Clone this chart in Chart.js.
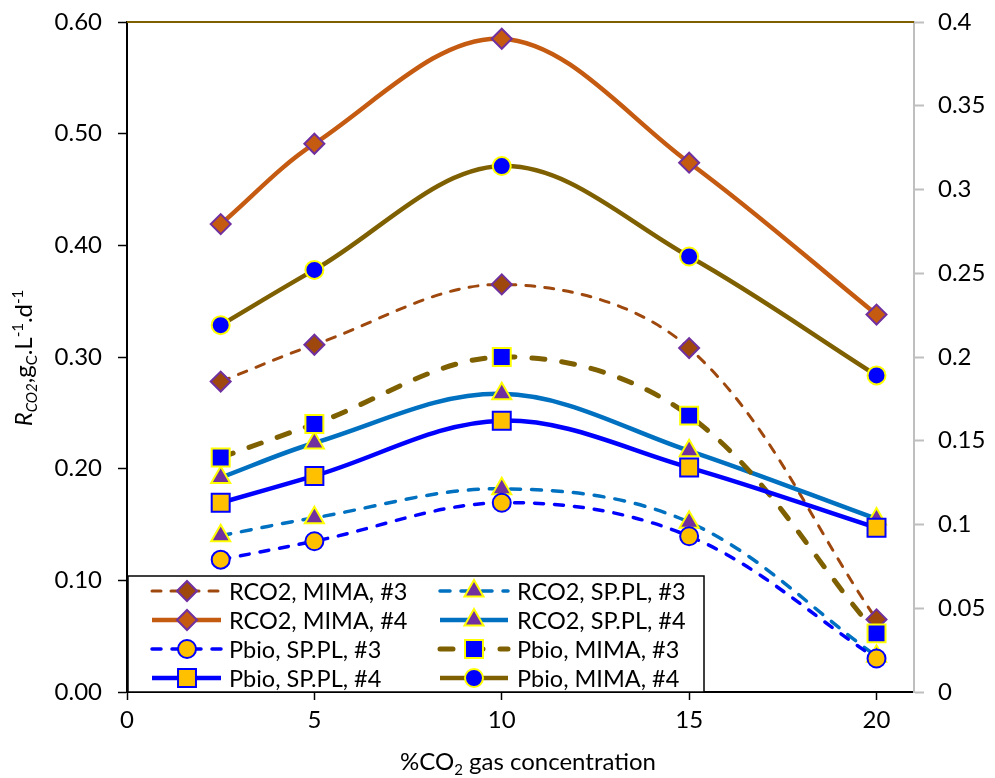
<!DOCTYPE html>
<html>
<head>
<meta charset="utf-8">
<script src="https://cdn.jsdelivr.net/npm/chart.js@4.4.1/dist/chart.umd.min.js"></script>
<style>
  html, body { margin: 0; padding: 0; background: #fff; }
  canvas { display: block; }
</style>
</head>
<body>
<canvas id="chart" width="995" height="778"></canvas>
<script>
// x positions (% CO2 in gas)
const xValues = [2.5, 5, 10, 15, 20];

// CO2 removal rate, left axis
const rco2Mima3 = [0.278, 0.311, 0.365, 0.308, 0.065];
const rco2Sppl3 = [0.140, 0.156, 0.182, 0.152, 0.032];
const rco2Mima4 = [0.419, 0.491, 0.585, 0.474, 0.338];
const rco2Sppl4 = [0.192, 0.223, 0.267, 0.216, 0.155];

// biomass productivity, right axis
const pbioSppl3 = [0.079, 0.090, 0.113, 0.093, 0.020];
const pbioMima3 = [0.140, 0.160, 0.200, 0.165, 0.035];
const pbioSppl4 = [0.113, 0.129, 0.162, 0.134, 0.098];
const pbioMima4 = [0.219, 0.252, 0.314, 0.260, 0.189];

const leftTicks = [0, 0.1, 0.2, 0.3, 0.4, 0.5, 0.6];
const rightTicks = [0, 0.05, 0.1, 0.15, 0.2, 0.25, 0.3, 0.35, 0.4];
const xTicks = [0, 5, 10, 15, 20];

const FONT = "Lato";
const ORANGE = "#C55A11", BROWN = "#9E480E", OLIVE = "#7F6000";
const LBLUE = "#0070C0", BLUE = "#0000FF", PURPLE = "#7030A0";
const YELLOW = "#FFFF00", GOLD = "#FFC000";

const pts = arr => xValues.map((x, i) => ({ x: x, y: arr[i] }));

// order of series = legend order (row by row)
const series = [
  { label: "RCO2, MIMA, #3", data: rco2Mima3, axis: "y", color: BROWN, width: 3, dash: [9, 10],
    shape: "rectRot", r: 10, fill: BROWN, stroke: PURPLE },
  { label: "RCO2, SP.PL, #3", data: rco2Sppl3, axis: "y", color: LBLUE, width: 3.5, dash: [10, 11],
    shape: "triangle", r: 11, fill: PURPLE, stroke: YELLOW },
  { label: "RCO2, MIMA, #4", data: rco2Mima4, axis: "y", color: ORANGE, width: 4.5, dash: [],
    shape: "rectRot", r: 10, fill: ORANGE, stroke: PURPLE },
  { label: "RCO2, SP.PL, #4", data: rco2Sppl4, axis: "y", color: LBLUE, width: 4.5, dash: [],
    shape: "triangle", r: 11, fill: PURPLE, stroke: YELLOW },
  { label: "Pbio, SP.PL, #3", data: pbioSppl3, axis: "y2", color: BLUE, width: 3.5, dash: [9, 11],
    shape: "circle", r: 9, fill: GOLD, stroke: BLUE },
  { label: "Pbio, MIMA, #3", data: pbioMima3, axis: "y2", color: OLIVE, width: 5, dash: [13, 17],
    shape: "rect", r: 12.7, fill: BLUE, stroke: YELLOW },
  { label: "Pbio, SP.PL, #4", data: pbioSppl4, axis: "y2", color: BLUE, width: 4.5, dash: [],
    shape: "rect", r: 12.7, fill: GOLD, stroke: BLUE },
  { label: "Pbio, MIMA, #4", data: pbioMima4, axis: "y2", color: OLIVE, width: 4.5, dash: [],
    shape: "circle", r: 9, fill: BLUE, stroke: YELLOW }
];

const datasets = series.map((s, i) => ({
  label: s.label,
  data: pts(s.data),
  yAxisID: s.axis,
  borderColor: s.color,
  borderWidth: s.width,
  borderDash: s.dash,
  borderCapStyle: s.dash.length ? "round" : "butt",
  fill: false,
  tension: 0.35,
  pointStyle: s.shape,
  pointRadius: s.r,
  pointBackgroundColor: s.fill,
  pointBorderColor: s.stroke,
  pointBorderWidth: 2,
  order: series.length - i
}));

// own marker drawing for the legend (same geometry as chart.js)
function drawMarker(ctx, shape, r, x, y, fill, stroke) {
  ctx.beginPath();
  if (shape === "circle") {
    ctx.arc(x, y, r, 0, Math.PI * 2);
  } else if (shape === "rect") {
    const h = Math.SQRT1_2 * r;
    ctx.rect(x - h, y - h, 2 * h, 2 * h);
  } else if (shape === "rectRot") {
    ctx.moveTo(x - r, y); ctx.lineTo(x, y - r); ctx.lineTo(x + r, y); ctx.lineTo(x, y + r);
    ctx.closePath();
  } else if (shape === "triangle") {
    ctx.moveTo(x, y - r);
    ctx.lineTo(x + Math.sin(2 * Math.PI / 3) * r, y + r / 2);
    ctx.lineTo(x - Math.sin(2 * Math.PI / 3) * r, y + r / 2);
    ctx.closePath();
  }
  ctx.fillStyle = fill; ctx.fill();
  ctx.lineWidth = 2; ctx.strokeStyle = stroke; ctx.stroke();
}

const topLine = {
  id: "topLine",
  beforeDatasetsDraw(chart) {
    const { ctx, chartArea: a } = chart;
    ctx.save();
    ctx.strokeStyle = OLIVE;
    ctx.lineWidth = 2;
    ctx.beginPath(); ctx.moveTo(a.left, a.top); ctx.lineTo(a.right, a.top); ctx.stroke();
    ctx.restore();
  }
};

const boxLegend = {
  id: "boxLegend",
  afterDatasetsDraw(chart) {
    const ctx = chart.ctx;
    const bottom = chart.chartArea.bottom;
    ctx.save();
    ctx.fillStyle = "#fff";
    ctx.fillRect(128, 576, 576, bottom - 576);
    ctx.strokeStyle = "#000";
    ctx.lineWidth = 1.5;
    ctx.strokeRect(128, 576, 576, bottom - 576);
    const rows = [591, 620, 649, 678];
    const cols = [{ l0: 152, l1: 221, m: 187, t: 229 }, { l0: 440, l1: 508, m: 474, t: 517 }];
    series.forEach((s, i) => {
      const y = rows[Math.floor(i / 2)], c = cols[i % 2];
      ctx.strokeStyle = s.color;
      ctx.lineWidth = s.width;
      ctx.setLineDash(s.dash);
      ctx.lineCap = s.dash.length ? "round" : "butt";
      ctx.beginPath(); ctx.moveTo(c.l0, y); ctx.lineTo(c.l1, y); ctx.stroke();
      ctx.setLineDash([]);
      drawMarker(ctx, s.shape, s.r, c.m, y, s.fill, s.stroke);
      ctx.fillStyle = "#000";
      ctx.font = "23.5px " + FONT;
      ctx.textBaseline = "middle";
      ctx.fillText(s.label, c.t, y + 1);
    });
    ctx.restore();
  }
};

function drawPieces(ctx, pieces, cx, cy) {
  let total = 0;
  pieces.forEach(p => { ctx.font = p.f; p.w = ctx.measureText(p.t).width; total += p.w; });
  let x = cx - total / 2;
  pieces.forEach(p => {
    ctx.font = p.f;
    ctx.fillText(p.t, x, cy + (p.dy || 0));
    x += p.w;
  });
}

const axisTitles = {
  id: "axisTitles",
  afterDraw(chart) {
    const ctx = chart.ctx;
    ctx.save();
    ctx.fillStyle = "#000";
    ctx.textBaseline = "alphabetic";
    ctx.textAlign = "left";
    // x title
    drawPieces(ctx, [
      { t: "%CO", f: "24px " + FONT },
      { t: "2", f: "15px " + FONT, dy: 5 },
      { t: " gas concentration", f: "24px " + FONT }
    ], 528, 770);
    // y title, rotated
    ctx.translate(32, 358);
    ctx.rotate(-Math.PI / 2);
    drawPieces(ctx, [
      { t: "R", f: "italic 24px " + FONT },
      { t: "CO2", f: "italic 15px " + FONT, dy: 5 },
      { t: ",g", f: "24px " + FONT },
      { t: "C", f: "15px " + FONT, dy: 5 },
      { t: ".L", f: "24px " + FONT },
      { t: "-1", f: "15px " + FONT, dy: -9 },
      { t: ".d", f: "24px " + FONT },
      { t: "-1", f: "15px " + FONT, dy: -9 }
    ], 0, 0);
    ctx.restore();
  }
};

// fixed plot box: drop the label overhang chart.js adds
const fitY = w => s => { s.width = w; s.paddingTop = 0; s.paddingBottom = 0; };

new Chart(document.getElementById("chart"), {
  type: "line",
  data: { datasets: datasets },
  plugins: [topLine, boxLegend, axisTitles],
  options: {
    responsive: false,
    animation: false,
    layout: { padding: { top: 22, right: 0, bottom: 0, left: 0 } },
    plugins: { legend: { display: false }, tooltip: { enabled: false } },
    scales: {
      x: {
        type: "linear",
        min: 0, max: 21,
        afterFit: s => { s.height = 86; s.paddingLeft = 0; s.paddingRight = 0; },
        afterBuildTicks: s => { s.ticks = xTicks.map(v => ({ value: v })); },
        ticks: { font: { family: FONT, size: 24 }, color: "#000", padding: 6 },
        grid: { drawOnChartArea: false, tickLength: 8, tickWidth: 1.5, tickColor: "#000" },
        border: { color: "#000", width: 2 }
      },
      y: {
        position: "left",
        min: 0, max: 0.6,
        afterFit: fitY(127),
        afterBuildTicks: s => { s.ticks = leftTicks.map(v => ({ value: v })); },
        ticks: { font: { family: FONT, size: 24 }, color: "#000", padding: 16,
                 callback: v => v.toFixed(2) },
        grid: { drawOnChartArea: false, tickLength: 9, tickWidth: 1.5, tickColor: "#000" },
        border: { color: "#000", width: 2 }
      },
      y2: {
        position: "right",
        display: true,
        min: 0, max: 0.4,
        afterFit: fitY(81),
        afterBuildTicks: s => { s.ticks = rightTicks.map(v => ({ value: v })); },
        ticks: { font: { family: FONT, size: 24 }, color: "#000", padding: 14,
                 callback: v => String(Number(v.toFixed(2))) },
        grid: { drawOnChartArea: false, tickLength: 10, tickWidth: 2, tickColor: "#BFBFBF" },
        border: { color: "#BFBFBF", width: 2 }
      }
    }
  }
});
</script>
</body>
</html>
